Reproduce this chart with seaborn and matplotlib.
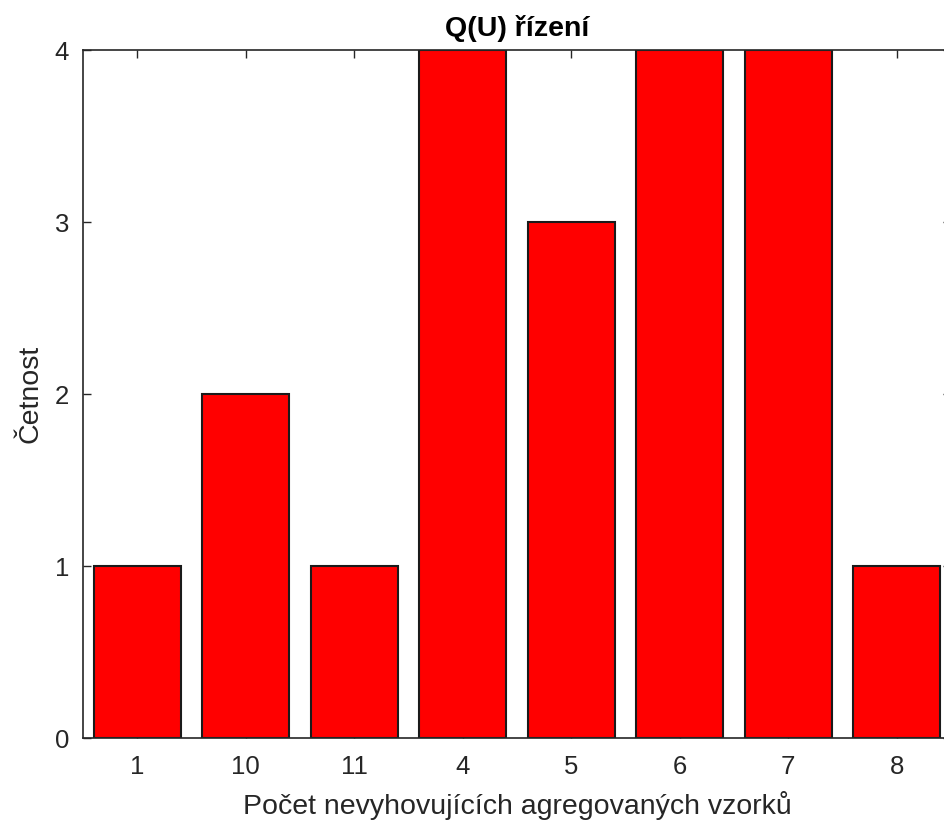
import matplotlib
matplotlib.use("Agg")
import matplotlib.pyplot as plt
import pandas as pd
import seaborn as sns

categories = ["1", "10", "11", "4", "5", "6", "7", "8"]
counts = [1, 2, 1, 4, 3, 4, 4, 1]
y_ticks = [0, 1, 2, 3, 4]

df = pd.DataFrame({"kategorie": categories, "cetnost": counts})

sns.set_theme(style="white")
plt.rcParams["font.family"] = ["Liberation Sans", "DejaVu Sans"]
text_col = "#262626"

fig = plt.figure(figsize=(9.45, 8.21), dpi=100)
# axes box runs slightly past the right edge, like the reference crop
ax = fig.add_axes([83 / 945, 83 / 821, 868 / 945, 688 / 821])

sns.barplot(
    data=df,
    x="kategorie",
    y="cetnost",
    order=categories,
    color="#ff0000",
    saturation=1,
    width=0.8,
    edgecolor="#1a1a1a",
    linewidth=1.5,
    ax=ax,
)

ax.set_xlim(-0.5, len(categories) - 0.5)
ax.set_ylim(0, 4)
ax.set_yticks(y_ticks)
ax.tick_params(
    direction="in", length=6, width=1, color=text_col, labelcolor=text_col,
    labelsize=18.5, top=True, right=True, bottom=True, left=True, pad=10,
)
ax.tick_params(axis="x", pad=12)
for s in ax.spines.values():
    s.set_visible(True)
    s.set_color(text_col)
    s.set_linewidth(1.2)

ax.set_xlabel("Počet nevyhovujících agregovaných vzorků", fontsize=20.5, color=text_col, labelpad=9)
ax.set_ylabel("Četnost", fontsize=20.5, color=text_col, labelpad=8)
ax.set_title("Q(U) řízení", fontsize=20.5, fontweight="bold", color="black", pad=10)

fig.savefig("out.png", dpi=100)
